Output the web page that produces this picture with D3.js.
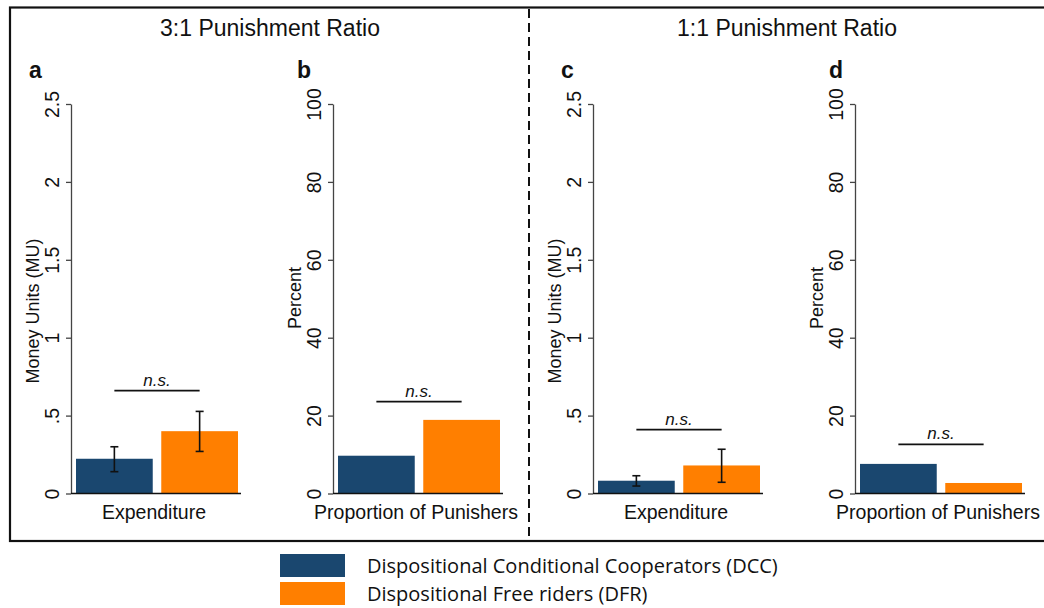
<!DOCTYPE html>
<html>
<head>
<meta charset="utf-8">
<script src="https://cdn.jsdelivr.net/npm/d3@7"></script>
<style>
  html, body { margin: 0; padding: 0; background: #fff; }
  svg { display: block; }
</style>
</head>
<body>
<svg id="chart" width="1044" height="608"></svg>
<script>
// Groups compared in every panel
const groups = ["DCC", "DFR"];
const groupNames = ["Dispositional Conditional Cooperators (DCC)", "Dispositional Free riders (DFR)"];
const groupColors = ["#1a476f", "#ff7f00"];

// Treatment headers and panel letters
const treatments = ["3:1 Punishment Ratio", "1:1 Punishment Ratio"];
const panelLetters = ["a", "b", "c", "d"];

// Mean punishment expenditure (MU) with 95% CI, per treatment
const expenditure31 = [0.223, 0.40];
const expenditure31Lo = [0.14, 0.27];
const expenditure31Hi = [0.30, 0.527];
const expenditure11 = [0.082, 0.18];
const expenditure11Lo = [0.048, 0.072];
const expenditure11Hi = [0.114, 0.284];

// Proportion of punishers (percent), per treatment
const punishers31 = [9.7, 18.9];
const punishers11 = [7.6, 2.7];

// Height of the "n.s." bracket in each panel (axis units)
const nsLevels = [0.66, 23.6, 0.41, 12.6];

// Axis ticks
const moneyTicks = [0, 0.5, 1, 1.5, 2, 2.5];
const moneyTickLabels = ["0", ".5", "1", "1.5", "2", "2.5"];
const percentTicks = [0, 20, 40, 60, 80, 100];

const svg = d3.select("#chart");
const AX = "Liberation Sans, Arial, sans-serif";

// Outer frame (open on the right) and the dashed treatment divider
svg.append("rect").attr("x", 10).attr("y", 7.5).attr("width", 1100).attr("height", 533.5)
  .attr("fill", "none").attr("stroke", "#111").attr("stroke-width", 2.2);
svg.append("line").attr("x1", 529).attr("x2", 529).attr("y1", 9).attr("y2", 540)
  .attr("stroke", "#111").attr("stroke-width", 2).attr("stroke-dasharray", "9,5");

// Treatment headers
[270, 787].forEach((cx, i) => {
  svg.append("text").attr("x", cx).attr("y", 36).attr("text-anchor", "middle")
    .attr("font-family", AX).attr("font-size", 23).attr("fill", "#111").text(treatments[i]);
});

const panels = [
  { axisX: 71,  letterX: 29,  ylab: "Money Units (MU)", ylabX: 39,  ylabY: 311, domain: [0, 2.5], ticks: moneyTicks, tickLabels: moneyTickLabels,
    values: expenditure31, lo: expenditure31Lo, hi: expenditure31Hi, cat: "Expenditure" },
  { axisX: 333, letterX: 297, ylab: "Percent", ylabX: 301, ylabY: 298, domain: [0, 100], ticks: percentTicks, tickLabels: percentTicks.map(String),
    values: punishers31, cat: "Proportion of Punishers" },
  { axisX: 593, letterX: 561, ylab: "Money Units (MU)", ylabX: 561, ylabY: 311, domain: [0, 2.5], ticks: moneyTicks, tickLabels: moneyTickLabels,
    values: expenditure11, lo: expenditure11Lo, hi: expenditure11Hi, cat: "Expenditure" },
  { axisX: 855, letterX: 829, ylab: "Percent", ylabX: 823, ylabY: 298, domain: [0, 100], ticks: percentTicks, tickLabels: percentTicks.map(String),
    values: punishers11, cat: "Proportion of Punishers" }
];

const plotTop = 104, plotBottom = 493.5, plotW = 170;

panels.forEach((p, pi) => {
  const g = svg.append("g");
  const y = d3.scaleLinear().domain(p.domain).range([plotBottom, plotTop]);
  const x = d3.scaleBand().domain(groups).range([p.axisX + 5, p.axisX + plotW - 3]).paddingInner(0.1).paddingOuter(0);

  // Panel letter
  g.append("text").attr("x", p.letterX).attr("y", 78).attr("font-family", AX)
    .attr("font-weight", "bold").attr("font-size", 23).attr("fill", "#111").text(panelLetters[pi]);

  // Bars
  g.selectAll("rect.bar").data(p.values).join("rect").attr("class", "bar")
    .attr("x", (d, i) => x(groups[i])).attr("width", x.bandwidth())
    .attr("y", d => y(d)).attr("height", d => y(0) - y(d))
    .attr("fill", (d, i) => groupColors[i]);

  // Confidence intervals
  if (p.lo) {
    groups.forEach((k, i) => {
      const cx = x(k) + x.bandwidth() / 2;
      const eg = g.append("g").attr("stroke", "#111").attr("stroke-width", 1.6);
      eg.append("line").attr("x1", cx).attr("x2", cx).attr("y1", y(p.lo[i])).attr("y2", y(p.hi[i]));
      eg.append("line").attr("x1", cx - 4).attr("x2", cx + 4).attr("y1", y(p.lo[i])).attr("y2", y(p.lo[i]));
      eg.append("line").attr("x1", cx - 4).attr("x2", cx + 4).attr("y1", y(p.hi[i])).attr("y2", y(p.hi[i]));
    });
  }

  // Y axis
  const yAxis = d3.axisLeft(y).tickValues(p.ticks).tickFormat((d, i) => p.tickLabels[i]).tickSize(5).tickSizeOuter(0);
  const ya = g.append("g").attr("transform", `translate(${p.axisX},0)`).call(yAxis);
  ya.select(".domain").attr("stroke", "#444").attr("stroke-width", 1.3);
  ya.selectAll(".tick line").attr("stroke", "#444").attr("stroke-width", 1.3);
  ya.selectAll(".tick text")
    .attr("font-family", AX).attr("font-size", 19.5).attr("fill", "#111")
    .attr("x", null).attr("dy", null).attr("text-anchor", "middle")
    .attr("transform", "translate(-12,0) rotate(-90)");

  // Baseline
  g.append("line").attr("x1", p.axisX).attr("x2", p.axisX + plotW)
    .attr("y1", y(0)).attr("y2", y(0)).attr("stroke", "#111").attr("stroke-width", 1.6);

  // Y title
  g.append("text").attr("transform", `translate(${p.ylabX},${p.ylabY}) rotate(-90)`)
    .attr("text-anchor", "middle").attr("font-family", AX).attr("font-size", 18).attr("fill", "#111").text(p.ylab);

  // Category label
  g.append("text").attr("x", p.axisX + plotW / 2 - 2).attr("y", 519).attr("text-anchor", "middle")
    .attr("font-family", AX).attr("font-size", 19.5).attr("fill", "#111").text(p.cat);

  // n.s. bracket
  const c0 = x(groups[0]) + x.bandwidth() / 2, c1 = x(groups[1]) + x.bandwidth() / 2;
  const ny = y(nsLevels[pi]);
  g.append("line").attr("x1", c0).attr("x2", c1).attr("y1", ny).attr("y2", ny)
    .attr("stroke", "#111").attr("stroke-width", 1.6);
  g.append("text").attr("x", (c0 + c1) / 2).attr("y", ny - 5).attr("text-anchor", "middle")
    .attr("font-family", AX).attr("font-style", "italic").attr("font-size", 17).attr("fill", "#111").text("n.s.");
});

// Legend
const lg = svg.append("g");
groupNames.forEach((name, i) => {
  lg.append("rect").attr("x", 280).attr("y", 554 + i * 28).attr("width", 65).attr("height", 23).attr("fill", groupColors[i]);
  lg.append("text").attr("x", 367).attr("y", 573 + i * 28).attr("font-family", "Open Sans, Noto Sans, sans-serif")
    .attr("font-size", 20).attr("fill", "#111").text(name);
});
</script>
</body>
</html>
